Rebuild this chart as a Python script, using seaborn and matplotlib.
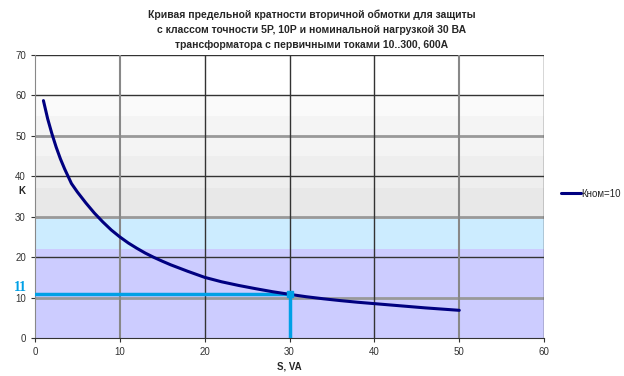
import numpy as np
import pandas as pd
import matplotlib
matplotlib.use("Agg")
import matplotlib.pyplot as plt
import seaborn as sns

# данные кривой
s_va = [1, 1.5, 2, 2.5, 3, 3.5, 4.3, 5, 6, 7, 8, 9, 10, 11, 12, 13, 14, 15,
        16, 17, 18, 19, 20, 22, 24, 26, 28, 30, 32, 34, 36, 38, 40, 42, 44,
        46, 48, 50]
k_vals = [58.7, 54.2, 50.5, 47.2, 44.3, 41.8, 38.2, 36.1, 33.4, 30.9, 28.7,
          26.7, 25, 23.5, 22.2, 21, 19.95, 19, 18.1, 17.3, 16.5, 15.75, 15,
          13.9, 13, 12.2, 11.45, 10.8, 10.2, 9.7, 9.25, 8.85, 8.5, 8.15, 7.8,
          7.45, 7.15, 6.85]
series_name = "Кном=10"

# рабочая точка
s_nom = 30
k_nom = 11

# фоновые полосы (нижняя, верхняя граница, цвет)
band_lo = [0, 22, 29.5, 37, 45, 55]
band_hi = [22, 29.5, 37, 45, 55, 60]
band_colors = ["#CCCCFF", "#CCECFF", "#E8E8E8", "#EEEEEE", "#F4F4F4", "#FAFAFA"]

title = ("Кривая предельной кратности вторичной обмотки для защиты\n"
         "с классом точности 5Р, 10Р и номинальной нагрузкой 30 ВА\n"
         "трансформатора с первичными токами 10..300, 600А")

sns.set_style("white")
plt.rcParams['font.family'] = ['Liberation Sans', 'DejaVu Sans']

df = pd.DataFrame({"S": s_va, "K": k_vals})

fig = plt.figure(figsize=(6.24, 3.76), dpi=100)
ax = fig.add_axes([0.056, 0.101, 0.816, 0.753])

for lo, hi, c in zip(band_lo, band_hi, band_colors):
    ax.axhspan(lo, hi, color=c, lw=0, zorder=0)

# сетка
for y in [20, 40, 60, 70]:
    ax.axhline(y, color="#333333", lw=1, zorder=1)
for y in [10, 30, 50]:
    ax.axhline(y, color="#999999", lw=2, zorder=1)
for x in [20, 30, 40, 60]:
    ax.axvline(x, color="#333333", lw=1, zorder=1)
for x in [10, 50]:
    ax.axvline(x, color="#888888", lw=1.5, zorder=1)

sns.lineplot(data=df, x="S", y="K", ax=ax, color="#000080", lw=2.2,
             label=series_name, zorder=4)

# линии рабочей точки
ax.plot([0, s_nom], [k_nom, k_nom], color="#00A0E6", lw=2.5, zorder=3)
ax.plot([s_nom, s_nom], [0, k_nom], color="#00A0E6", lw=2.5, zorder=3)
ax.plot([s_nom], [k_nom], "s", color="#00A0E6", ms=5, zorder=5)
ax.text(-1.0, k_nom, str(k_nom), color="#00A0E6", fontsize=10, fontweight="bold",
        family=["Liberation Serif", "DejaVu Serif"], ha="right", va="bottom")

ax.set_xlim(0, 60)
ax.set_ylim(0, 70)
ax.set_xticks(range(0, 61, 10))
ax.set_yticks(range(0, 71, 10))
ax.tick_params(axis="both", labelsize=7, colors="#333333", length=3, direction="out",
               left=True, bottom=True)
for sp in ["top", "right"]:
    ax.spines[sp].set_visible(False)
ax.spines["left"].set_color("#888888")
ax.spines["bottom"].set_color("#333333")

ax.set_xlabel("S, VA", fontsize=7, fontweight="bold", labelpad=3)
ax.set_ylabel("K", fontsize=7, fontweight="bold", rotation=0)
ax.yaxis.set_label_coords(-0.025, 0.5)

fig.text(0.5, 0.975, title, ha="center", va="top", fontsize=7.5,
         fontweight="bold", linespacing=1.65)

ax.legend(loc="center left", bbox_to_anchor=(1.026, 0.51), frameon=False,
          fontsize=7, handlelength=2.0, handletextpad=0.1, borderaxespad=0)

fig.savefig("out.png", dpi=100)
